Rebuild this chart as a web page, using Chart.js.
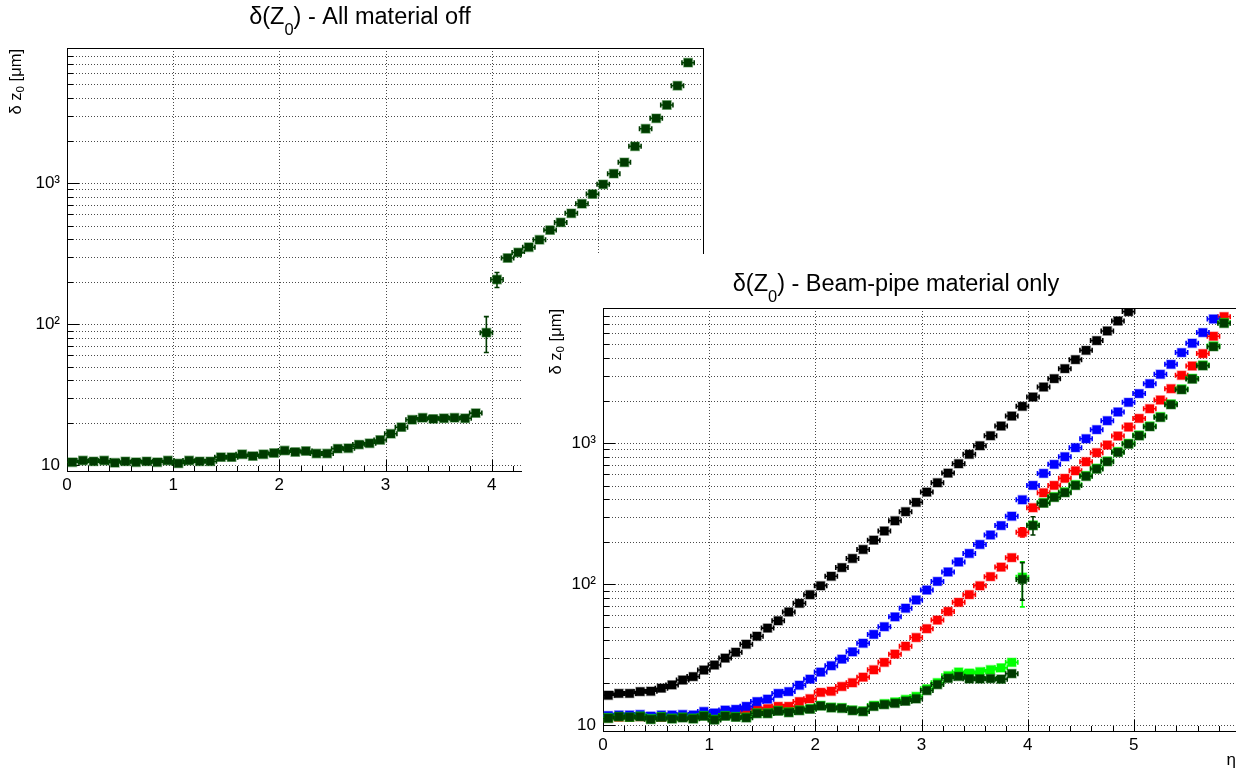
<!DOCTYPE html>
<html lang="en">
<head>
<meta charset="UTF-8">
<title>delta z0 resolution vs eta</title>
<script src="https://cdn.jsdelivr.net/npm/chart.js@4.4.1/dist/chart.umd.min.js"></script>
<style>
    html, body {
        margin: 0;
        padding: 0;
        background: #fff;
        overflow: hidden;
        width: 1236px;
        height: 769px;
    }
    .pad {
        position: absolute;
        background: #fff;
    }
    #pad1 { left: 0; top: 0; width: 720px; height: 505px; }
    #pad2 { left: 522px; top: 254px; width: 740px; height: 515px; }
</style>
</head>
<body>

<div class="pad" id="pad1"><canvas id="c1" width="720" height="505"></canvas></div>
<div class="pad" id="pad2"><canvas id="c2" width="740" height="515"></canvas></div>

<script>
// eta bin centres (bin width 0.1)
const etaBins = [
    0.05, 0.15, 0.25, 0.35, 0.45, 0.55, 0.65, 0.75, 0.85, 0.95,
    1.05, 1.15, 1.25, 1.35, 1.45, 1.55, 1.65, 1.75, 1.85, 1.95,
    2.05, 2.15, 2.25, 2.35, 2.45, 2.55, 2.65, 2.75, 2.85, 2.95,
    3.05, 3.15, 3.25, 3.35, 3.45, 3.55, 3.65, 3.75, 3.85, 3.95,
    4.05, 4.15, 4.25, 4.35, 4.45, 4.55, 4.65, 4.75, 4.85, 4.95,
    5.05, 5.15, 5.25, 5.35, 5.45, 5.55, 5.65, 5.75, 5.85
];
const binHalfWidth = 0.05;

// left pad: all material off (um)
const allMaterialOff = [
    10.5, 10.8, 10.65, 10.8, 10.4, 10.65, 10.5, 10.65, 10.5, 10.8,
    10.3, 10.8, 10.65, 10.65, 11.4, 11.4, 11.95, 11.6, 11.95, 12.2,
    12.7, 12.4, 12.6, 12.1, 12.1, 13.1, 13.2, 14.0, 14.3, 15.1,
    16.7, 18.6, 21.0, 21.7, 21.3, 21.5, 21.7, 21.5, 23.4, 87,
    207, 294, 322, 351, 396, 464, 526, 610, 713, 835,
    979, 1165, 1402, 1820, 2427, 2875, 3573, 4898, 7130
];
// [eta, low, high] for the visible vertical error bars
const allMaterialOffErr = [[3.95, 63, 113], [4.05, 182, 232]];

// right pad: beam-pipe material only (um)
const beamBlack = [
    16.3, 16.8, 16.8, 17.3, 17.4, 18.3, 19.3, 20.9, 22.1, 24.6,
    26.7, 29.9, 32.9, 37.5, 42.7, 48.8, 55, 63.5, 73.1, 84.1,
    97.3, 113.7, 131, 152, 176, 205, 238, 281, 326, 380,
    449, 523, 612, 713, 832, 957, 1127, 1320, 1553, 1820,
    2119, 2495, 2859, 3366, 3900, 4540, 5320, 6230, 7330, 8540,
    null, null, null, null, null, null, null, null, null
];
const beamBlue = [
    11.7, 11.8, 11.8, 11.9, 11.6, 11.8, 11.8, 11.9, 11.8, 12.5,
    12.2, 12.8, 12.95, 13.6, 14.7, 15.3, 16.8, 17.3, 19.2, 21.2,
    23.8, 26.4, 29.4, 33.1, 38.1, 44, 49.9, 58.6, 67.5, 77.2,
    90.8, 104.5, 122, 143.6, 165, 191, 223, 260, 303, 396,
    501, 609, 706, 800, 927, 1073, 1244, 1440, 1660, 1943,
    2240, 2635, 3070, 3612, 4374, 5095, 6064, 7570, null
];
const beamRed = [
    11.3, 11.4, 11.4, 11.5, 11.2, 11.4, 11.4, 11.5, 11.4, 11.8,
    11.3, 12.2, 12.2, 12.7, 12.95, 13.1, 13.6, 13.6, 14.7, 15.4,
    17.1, 17.4, 18.8, 20.0, 21.9, 24.7, 27.9, 31.9, 36.3, 41.8,
    48.3, 55.6, 64, 74.3, 84.2, 97.3, 113, 132, 154, 233,
    348, 444, 501, 562, 636, 737, 854, 968, 1121, 1298,
    1495, 1751, 2018, 2428, 3020, 3517, 4303, 5710, 7870
];
const beamRedErr = [[3.95, 216, 251]];
const beamLightGreen = [
    11.3, 11.5, 11.4, 11.6, 11.1, 11.5, 11.2, 11.4, 11.2, 11.7,
    11.0, 11.7, 11.5, 11.4, 12.2, 12.2, 12.7, 12.4, 12.8, 13.1,
    13.8, 13.4, 13.3, 12.8, 12.6, 13.8, 14.2, 14.6, 15.2, 16.0,
    18.1, 20.0, 22.4, 23.8, 23.4, 23.9, 24.7, 25.5, 27.9, 112,
    262, 378, 416, 450, 506, 587, 662, 745, 868, 994,
    1138, 1319, 1536, 1890, 2414, 2871, 3567, 4868, 7130
];
const beamLightGreenErr = [[3.95, 69, 144]];
const beamDarkGreen = [
    11.2, 11.5, 11.4, 11.5, 11.0, 11.4, 11.1, 11.3, 11.1, 11.6,
    10.9, 11.6, 11.4, 11.3, 12.1, 12.1, 12.6, 12.3, 12.7, 13.0,
    13.7, 13.3, 13.2, 12.7, 12.5, 13.6, 14.0, 14.3, 14.8, 15.4,
    17.6, 19.4, 21.5, 22.2, 21.3, 21.3, 21.4, 21.2, 23.2, 108,
    260, 375, 412, 445, 501, 581, 655, 738, 859, 984,
    1127, 1306, 1521, 1871, 2390, 2843, 3532, 4820, 7060
];
const beamDarkGreenErr = [[3.95, 77, 142], [4.05, 223, 300]];

// axis ticks
const xTickValues = [0, 1, 2, 3, 4, 5, 6];
const yTickValues = [
    10, 20, 30, 40, 50, 60, 70, 80, 90,
    100, 200, 300, 400, 500, 600, 700, 800, 900,
    1000, 2000, 3000, 4000, 5000, 6000, 7000, 8000, 9000
];
const yDecadeLabels = { 10: '10', 100: '10\u00b2', 1000: '10\u00b3' };

const FONT = "'Liberation Sans', Arial, Helvetica, sans-serif";

// draw text made of [string, isSubscript] pieces
function drawRich(ctx, parts, x, y, align, size, subShift) {
    const widths = parts.map(p => {
        ctx.font = (p[1] ? size * 0.7 : size) + 'px ' + FONT;
        return ctx.measureText(p[0]).width;
    });
    const total = widths.reduce((a, b) => a + b, 0);
    let cx = align === 'center' ? x - total / 2 : (align === 'right' ? x - total : x);
    ctx.textAlign = 'left';
    ctx.textBaseline = 'middle';
    parts.forEach((p, i) => {
        ctx.font = (p[1] ? size * 0.7 : size) + 'px ' + FONT;
        ctx.fillText(p[0], cx, p[1] ? y + size * subShift : y);
        cx += widths[i];
    });
}

// ROOT style frame, dotted grid and inner ticks
const rootFrame = {
    id: 'rootFrame',
    beforeDatasetsDraw(chart) {
        const { ctx, chartArea: a, scales: { x, y } } = chart;
        ctx.save();
        ctx.strokeStyle = '#4a4a4a';
        ctx.lineWidth = 1;
        ctx.setLineDash([1, 2]);
        ctx.beginPath();
        yTickValues.forEach(v => {
            if (v < y.min || v > y.max) return;
            const py = Math.round(y.getPixelForValue(v)) + 0.5;
            ctx.moveTo(a.left, py);
            ctx.lineTo(a.right, py);
        });
        xTickValues.forEach(v => {
            if (v <= x.min || v >= x.max) return;
            const px = Math.round(x.getPixelForValue(v)) + 0.5;
            ctx.moveTo(px, a.top);
            ctx.lineTo(px, a.bottom);
        });
        ctx.stroke();

        ctx.setLineDash([]);
        ctx.strokeStyle = '#000';
        ctx.beginPath();
        yTickValues.forEach(v => {
            if (v < y.min || v > y.max) return;
            const py = Math.round(y.getPixelForValue(v)) + 0.5;
            const len = yDecadeLabels[v] ? 12 : 6;
            ctx.moveTo(a.left, py);
            ctx.lineTo(a.left + len, py);
        });
        for (let k = 0; k <= 30; k++) {
            const px = Math.round(x.getPixelForValue(k * 0.2)) + 0.5;
            const len = k % 5 === 0 ? 12 : 6;
            ctx.moveTo(px, a.bottom);
            ctx.lineTo(px, a.bottom - len);
        }
        ctx.stroke();
        ctx.strokeRect(Math.round(a.left) + 0.5, Math.round(a.top) + 0.5,
            Math.round(a.width) - 1, Math.round(a.height) - 1);
        ctx.restore();
    },
    beforeDatasetDraw(chart, args) {
        // error bars under each marker
        const ds = chart.data.datasets[args.index];
        const { ctx, chartArea: a, scales: { x, y } } = chart;
        ctx.save();
        ctx.beginPath();
        ctx.rect(a.left, a.top, a.width, a.height);
        ctx.clip();
        ctx.strokeStyle = ds.backgroundColor;
        ctx.lineWidth = 1.6;
        ctx.beginPath();
        ds.data.forEach(p => {
            const py = y.getPixelForValue(p.y);
            const x1 = x.getPixelForValue(p.x - binHalfWidth) - 0.8;
            const x2 = x.getPixelForValue(p.x + binHalfWidth) + 0.8;
            ctx.moveTo(x1, py);
            ctx.lineTo(x2, py);
            ctx.moveTo(x1, py - 2.5);
            ctx.lineTo(x1, py + 2.5);
            ctx.moveTo(x2, py - 2.5);
            ctx.lineTo(x2, py + 2.5);
        });
        (ds.errors || []).forEach(e => {
            const px = x.getPixelForValue(e[0]);
            const lo = y.getPixelForValue(e[1]);
            const hi = y.getPixelForValue(e[2]);
            ctx.moveTo(px, lo);
            ctx.lineTo(px, hi);
            ctx.moveTo(px - 2.5, lo);
            ctx.lineTo(px + 2.5, lo);
            ctx.moveTo(px - 2.5, hi);
            ctx.lineTo(px + 2.5, hi);
        });
        ctx.stroke();
        ctx.restore();
    },
    afterDraw(chart, args, o) {
        const ctx = chart.ctx;
        ctx.save();
        ctx.fillStyle = '#000';
        drawRich(ctx, o.title, o.titleX, o.titleY, 'center', 23.5, 0.55);
        if (o.xTitle) {
            drawRich(ctx, [[o.xTitle, false]], chart.chartArea.right - 4, o.xTitleY, 'right', 17, 0);
        }
        ctx.translate(o.yTitleX, chart.chartArea.top + 1);
        ctx.rotate(-Math.PI / 2);
        drawRich(ctx, o.yTitle, 0, 0, 'right', 16.5, 0.3);
        ctx.restore();
    }
};

const yTitleParts = [['\u03b4 z', false], ['0', true], [' [\u03bcm]', false]];

function makeDataset(values, color, halo, errors) {
    return {
        data: etaBins.map((x, i) => ({ x: x, y: values[i] })).filter(p => p.y !== null),
        backgroundColor: color,
        borderColor: halo,
        borderWidth: 1.4,
        pointStyle: 'rect',
        pointRadius: 6,
        pointHoverRadius: 6,
        errors: errors
    };
}

function makeChart(id, datasets, cfg) {
    return new Chart(document.getElementById(id), {
        type: 'scatter',
        data: { datasets: datasets },
        options: {
            responsive: false,
            animation: false,
            events: [],
            layout: { padding: { left: 0, top: cfg.top, right: cfg.right, bottom: 0 } },
            plugins: {
                legend: { display: false },
                tooltip: { enabled: false },
                rootFrame: cfg.text
            },
            scales: {
                x: {
                    type: 'linear',
                    min: 0,
                    max: 6,
                    afterBuildTicks: s => { s.ticks = xTickValues.map(v => ({ value: v })); },
                    afterFit: s => { s.height = cfg.xAxisHeight; },
                    grid: { display: false, drawTicks: false },
                    border: { display: false },
                    ticks: {
                        autoSkip: false,
                        maxRotation: 0,
                        padding: 3,
                        color: '#000',
                        font: { family: FONT, size: 17 },
                        callback: v => String(v)
                    }
                },
                y: {
                    type: 'logarithmic',
                    min: 8.95,
                    max: 9060,
                    afterBuildTicks: s => {
                        s.ticks = yTickValues.filter(v => v >= s.min && v <= s.max).map(v => ({ value: v }));
                    },
                    afterFit: s => { s.width = cfg.yAxisWidth; },
                    grid: { display: false, drawTicks: false },
                    border: { display: false },
                    ticks: {
                        autoSkip: false,
                        padding: 7,
                        color: '#000',
                        font: { family: FONT, size: 17 },
                        callback: v => yDecadeLabels[v] || ''
                    }
                }
            }
        },
        plugins: [rootFrame]
    });
}

const darkGreen = '#003a00';

makeChart('c1', [
    makeDataset(allMaterialOff, darkGreen, 'rgba(0,90,0,0.45)', allMaterialOffErr)
], {
    top: 48, right: 16, xAxisHeight: 33, yAxisWidth: 67,
    text: {
        title: [['\u03b4(Z', false], ['0', true], [') - All material off', false]],
        titleX: 360, titleY: 18,
        yTitle: yTitleParts, yTitleX: 16
    }
});

makeChart('c2', [
    makeDataset(beamDarkGreen, darkGreen, 'rgba(0,90,0,0.45)', beamDarkGreenErr),
    makeDataset(beamLightGreen, '#00ff00', 'rgba(0,255,0,0.4)', beamLightGreenErr),
    makeDataset(beamBlue, '#0000ff', 'rgba(0,0,255,0.35)', []),
    makeDataset(beamRed, '#ff0000', 'rgba(255,0,0,0.35)', beamRedErr),
    makeDataset(beamBlack, '#000000', 'rgba(0,0,0,0.35)', [])
], {
    top: 54, right: 22, xAxisHeight: 37, yAxisWidth: 81,
    text: {
        title: [['\u03b4(Z', false], ['0', true], [') - Beam-pipe material only', false]],
        titleX: 374, titleY: 31,
        yTitle: yTitleParts, yTitleX: 34,
        xTitle: '\u03b7', xTitleY: 506
    }
});
</script>
</body>
</html>
